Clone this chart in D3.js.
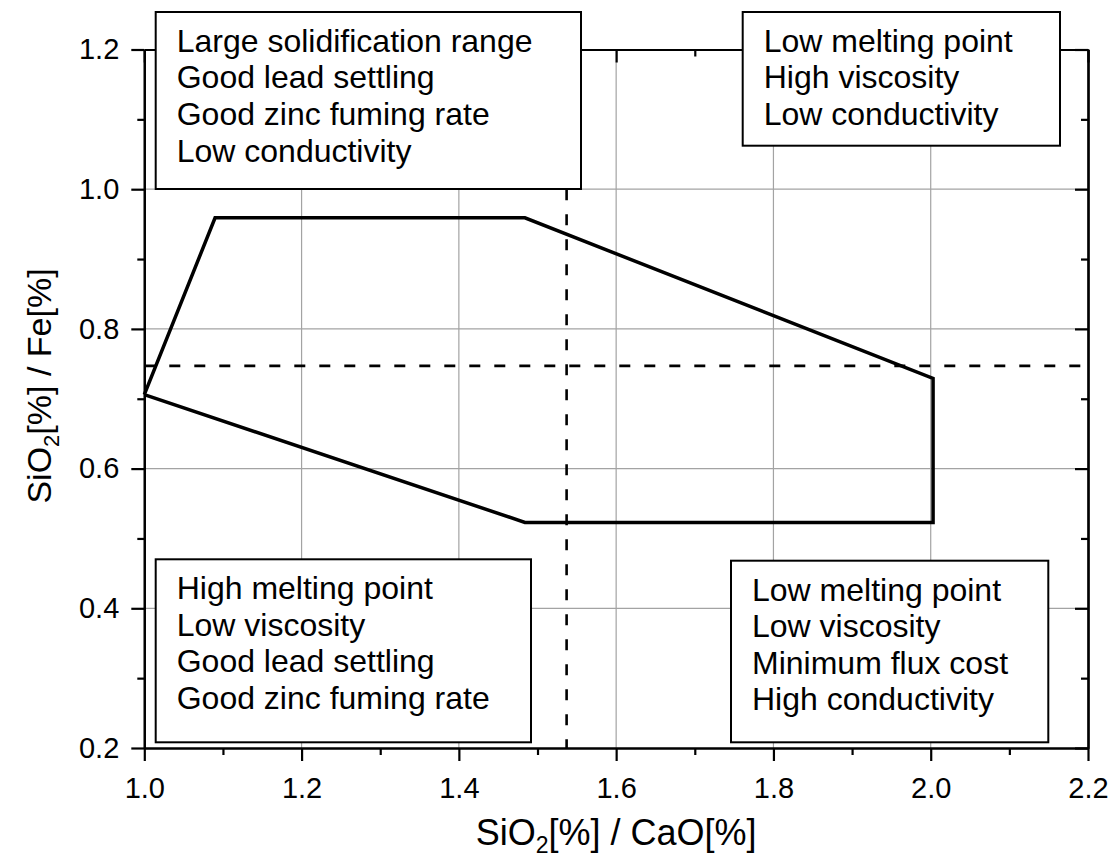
<!DOCTYPE html>
<html>
<head>
<meta charset="utf-8">
<script src="https://cdn.jsdelivr.net/npm/d3@7"></script>
<style>
  html, body { margin: 0; padding: 0; background: #fff; }
  svg { display: block; font-family: "Liberation Sans", Arial, sans-serif; }
</style>
</head>
<body>
<svg id="chart" width="1114" height="858"></svg>
<script>
// Operating window outline (SiO2/CaO vs SiO2/Fe)
const regionX = [1.0, 1.09, 1.484, 2.003, 2.003, 1.484, 1.0];
const regionY = [0.706, 0.959, 0.959, 0.729, 0.523, 0.523, 0.706];

// Reference ratios (dashed lines)
const refX = 1.537;
const refY = 0.747;

// Axis ticks
const xMajor = [1.0, 1.2, 1.4, 1.6, 1.8, 2.0, 2.2];
const xMinor = [1.1, 1.3, 1.5, 1.7, 1.9, 2.1];
const yMajor = [0.2, 0.4, 0.6, 0.8, 1.0, 1.2];
const yMinor = [0.3, 0.5, 0.7, 0.9, 1.1];

// Quadrant annotations
const textTopLeft = ["Large solidification range", "Good lead settling", "Good zinc fuming rate", "Low conductivity"];
const textTopRight = ["Low melting point", "High viscosity", "Low conductivity"];
const textBottomLeft = ["High melting point", "Low viscosity", "Good lead settling", "Good zinc fuming rate"];
const textBottomRight = ["Low melting point", "Low viscosity", "Minimum flux cost", "High conductivity"];

const svg = d3.select("#chart");
const plotL = 144.3, plotR = 1088, plotT = 49.5, plotB = 748;

const x = d3.scaleLinear().domain([1.0, 2.2]).range([plotL, plotR]);
const y = d3.scaleLinear().domain([0.2, 1.2]).range([plotB, plotT]);

// Grid
const grid = svg.append("g").attr("stroke", "#a3a3a3").attr("stroke-width", 1.2);
grid.selectAll("line.gx").data(xMajor.slice(1, -1)).join("line")
  .attr("x1", d => x(d)).attr("x2", d => x(d)).attr("y1", plotT).attr("y2", plotB);
grid.selectAll("line.gy").data(yMajor.slice(1, -1)).join("line")
  .attr("y1", d => y(d)).attr("y2", d => y(d)).attr("x1", plotL).attr("x2", plotR);

// Dashed reference lines
svg.append("line")
  .attr("x1", x(refX)).attr("x2", x(refX)).attr("y1", y(1.0)).attr("y2", y(0.2))
  .attr("stroke", "#000").attr("stroke-width", 2.6).attr("stroke-dasharray", "11,14");
svg.append("line")
  .attr("x1", x(1.0)).attr("x2", x(2.2)).attr("y1", y(refY)).attr("y2", y(refY))
  .attr("stroke", "#000").attr("stroke-width", 2.6).attr("stroke-dasharray", "11,14");

// Region outline
const pts = regionX.map((v, i) => [v, regionY[i]]);
svg.append("path")
  .attr("d", d3.line().x(d => x(d[0])).y(d => y(d[1]))(pts))
  .attr("fill", "none").attr("stroke", "#000").attr("stroke-width", 3.5)
  .attr("stroke-linejoin", "miter");

// Axes
function styleAxis(g) {
  g.select(".domain").attr("stroke", "#000").attr("stroke-width", 2.2);
  g.selectAll(".tick line").attr("stroke", "#000").attr("stroke-width", 2.2);
  g.selectAll(".tick text").attr("fill", "#000").attr("font-size", 29)
    .attr("font-family", "Liberation Sans, Arial, sans-serif");
}
const fmt = d3.format(".1f");

const gB = svg.append("g").attr("transform", `translate(0,${plotB})`)
  .call(d3.axisBottom(x).tickValues(xMajor).tickFormat(fmt).tickSize(13).tickSizeOuter(0).tickPadding(16));
styleAxis(gB);
const gBm = svg.append("g").attr("transform", `translate(0,${plotB})`)
  .call(d3.axisBottom(x).tickValues(xMinor).tickFormat("").tickSize(7).tickSizeOuter(0));
styleAxis(gBm);

const gL = svg.append("g").attr("transform", `translate(${plotL},0)`)
  .call(d3.axisLeft(y).tickValues(yMajor).tickFormat(fmt).tickSize(13).tickSizeOuter(0).tickPadding(12));
styleAxis(gL);
const gLm = svg.append("g").attr("transform", `translate(${plotL},0)`)
  .call(d3.axisLeft(y).tickValues(yMinor).tickFormat("").tickSize(7).tickSizeOuter(0));
styleAxis(gLm);

const gT = svg.append("g").attr("transform", `translate(0,${plotT})`)
  .call(d3.axisTop(x).tickValues(xMajor).tickFormat("").tickSize(-13).tickSizeOuter(0));
styleAxis(gT);
const gTm = svg.append("g").attr("transform", `translate(0,${plotT})`)
  .call(d3.axisTop(x).tickValues(xMinor).tickFormat("").tickSize(-7).tickSizeOuter(0));
styleAxis(gTm);

const gR = svg.append("g").attr("transform", `translate(${plotR},0)`)
  .call(d3.axisRight(y).tickValues(yMajor).tickFormat("").tickSize(-13).tickSizeOuter(0));
styleAxis(gR);
const gRm = svg.append("g").attr("transform", `translate(${plotR},0)`)
  .call(d3.axisRight(y).tickValues(yMinor).tickFormat("").tickSize(-7).tickSizeOuter(0));
styleAxis(gRm);

// Axis titles
const xt = svg.append("text").attr("x", (plotL + plotR) / 2).attr("y", 845)
  .attr("text-anchor", "middle").attr("font-size", 36).attr("fill", "#000");
xt.append("tspan").text("SiO");
xt.append("tspan").text("2").attr("font-size", 23).attr("dy", 8);
xt.append("tspan").text("[%] / CaO[%]").attr("dy", -8);

const yt = svg.append("text")
  .attr("transform", `translate(51,386) rotate(-90)`)
  .attr("text-anchor", "middle").attr("font-size", 34).attr("fill", "#000");
yt.append("tspan").text("SiO");
yt.append("tspan").text("2").attr("font-size", 22).attr("dy", 8);
yt.append("tspan").text("[%] / Fe[%]").attr("dy", -8);

// Annotation boxes
const boxes = [
  { lines: textTopLeft, x0: 155.7, y0: 12, x1: 581, y1: 189 },
  { lines: textTopRight, x0: 742.7, y0: 12, x1: 1060, y1: 145.7 },
  { lines: textBottomLeft, x0: 155.7, y0: 559.3, x1: 531, y1: 742.3 },
  { lines: textBottomRight, x0: 731, y0: 560.7, x1: 1048.3, y1: 742.3 }
];
boxes.forEach(b => {
  const g = svg.append("g");
  g.append("rect")
    .attr("x", b.x0).attr("y", b.y0)
    .attr("width", b.x1 - b.x0).attr("height", b.y1 - b.y0)
    .attr("fill", "#fff").attr("stroke", "#000").attr("stroke-width", 2);
  g.selectAll("text").data(b.lines).join("text")
    .attr("x", b.x0 + 21)
    .attr("y", (d, i) => b.y0 + 39.8 + i * 36.6)
    .attr("font-size", 32).attr("fill", "#000")
    .text(d => d);
});
</script>
</body>
</html>
